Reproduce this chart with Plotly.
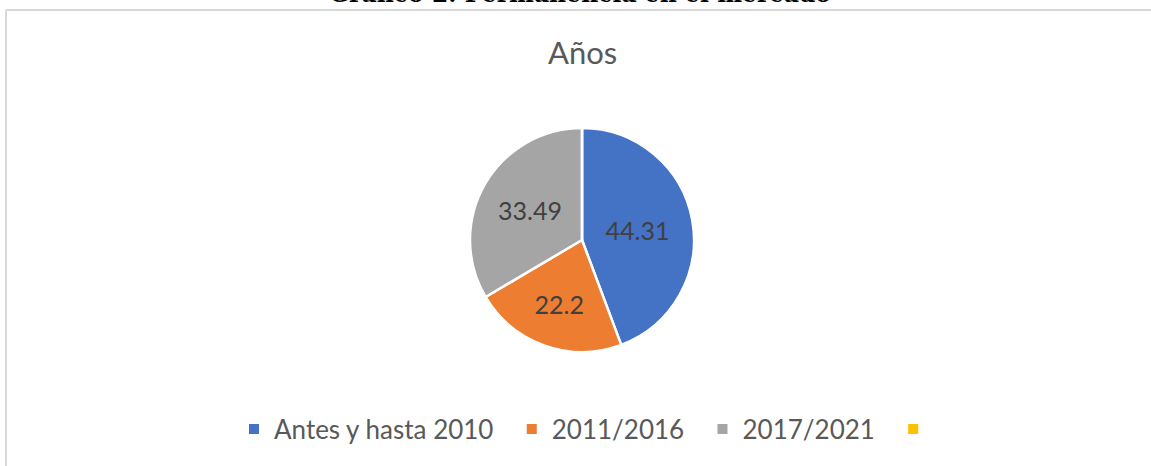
import plotly.graph_objects as go

W, H = 1151, 466

categories = ["Antes y hasta 2010", "2011/2016", "2017/2021", "\u00a0"]
values = [44.31, 22.2, 33.49, 0]
colors = ["#4472C4", "#ED7D31", "#A5A5A5", "#FFC000"]
chart_title = "Años"
page_title = "Gráfico 2. Permanencia en el mercado"

pad = "\u00a0" * 2
legend_labels = [c + pad for c in categories]

cx, cy, r = 582, 240, 112

fig = go.Figure(go.Pie(
    labels=legend_labels,
    values=values,
    sort=False,
    direction="clockwise",
    rotation=0,
    marker=dict(colors=colors, line=dict(color="white", width=2.5)),
    textinfo="value",
    texttemplate="%{value}",
    textposition="inside",
    insidetextorientation="horizontal",
    insidetextfont=dict(family="Lato", size=25, color="#404040"),
    hoverinfo="label+value",
    domain=dict(x=[(cx - r) / W, (cx + r) / W], y=[1 - (cy + r) / H, 1 - (cy - r) / H]),
))

fig.update_layout(
    width=W, height=H,
    margin=dict(l=0, r=0, t=0, b=0),
    paper_bgcolor="white",
    plot_bgcolor="white",
    showlegend=True,
    legend=dict(
        orientation="h",
        x=0.5 + 21 / W, xanchor="center",
        y=1 - 429 / H, yanchor="middle",
        font=dict(family="Lato", size=26, color="#595959"),
        itemsizing="constant",
        traceorder="normal",
    ),
    shapes=[
        dict(type="line", xref="paper", yref="paper", x0=6 / W, x1=1, y0=1 - 10 / H, y1=1 - 10 / H,
             line=dict(color="#D9D9D9", width=2)),
        dict(type="line", xref="paper", yref="paper", x0=6 / W, x1=6 / W, y0=0, y1=1 - 10 / H,
             line=dict(color="#D9D9D9", width=2)),
    ],
    annotations=[
        dict(text=chart_title, x=582 / W, y=1 - 52 / H, xref="paper", yref="paper",
             xanchor="center", yanchor="middle", showarrow=False,
             font=dict(family="Lato", size=31, color="#595959")),
        dict(text="<b>" + page_title + "</b>", x=580 / W, y=1 + 6 / H, xref="paper", yref="paper",
             xanchor="center", yanchor="middle", showarrow=False,
             font=dict(family="DejaVu Serif", size=23.5, color="#000000")),
    ],
)

fig.write_html("out.html", config={"displayModeBar": False},
               post_script="document.body.style.margin='0';document.body.style.overflow='hidden';")
